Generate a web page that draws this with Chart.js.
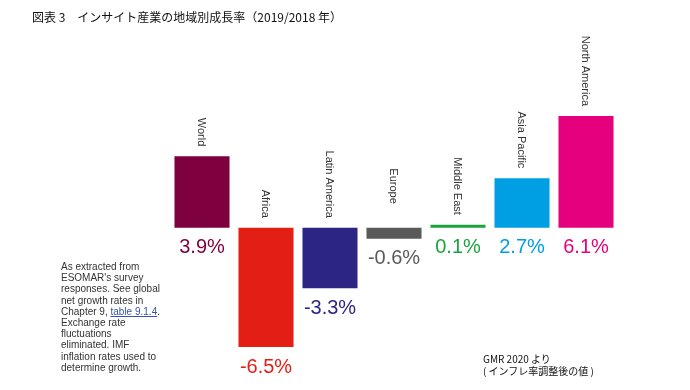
<!DOCTYPE html>
<html><head><meta charset="utf-8">
<script src="https://cdn.jsdelivr.net/npm/chart.js@4/dist/chart.umd.min.js"></script>
<style>
html,body{margin:0;padding:0;background:#fff;}
#wrap{position:relative;width:690px;height:390px;overflow:hidden;}
canvas{position:absolute;left:0;top:0;}
.title{position:absolute;left:32px;top:9px;font-family:"Noto Sans CJK JP",sans-serif;font-size:12px;color:#111;white-space:nowrap;line-height:16px;}
.note{position:absolute;left:61px;top:261px;font-family:"Liberation Sans",Arial,sans-serif;font-size:10px;line-height:11.2px;color:#333;}
.note u{color:#3355aa;}
.src{position:absolute;left:483px;top:353px;font-family:"Noto Sans CJK JP",sans-serif;font-size:10px;line-height:12px;color:#111;white-space:nowrap;}
</style></head>
<body><div id="wrap">
<canvas id="c" width="690" height="390"></canvas>
<div class="title">図表 3　インサイト産業の地域別成長率（2019/2018 年）</div>
<div class="note">As extracted from<br>ESOMAR's survey<br>responses. See global<br>net growth rates in<br>Chapter 9, <u>table 9.1.4</u>.<br>Exchange rate<br>fluctuations<br>eliminated. IMF<br>inflation rates used to<br>determine growth.</div>
<div class="src">GMR 2020 より<br>( インフレ率調整後の値 )</div>
</div>
<script>
const categories = ["World","Africa","Latin America","Europe","Middle East","Asia Pacific","North America"];
const growth = [3.9,-6.5,-3.3,-0.6,0.1,2.7,6.1];
const valueLabels = ["3.9%","-6.5%","-3.3%","-0.6%","0.1%","2.7%","6.1%"];
const colors = ["#7f003f","#e31e14","#2d2583","#5a5a5a","#1aa33e","#009fe3","#e5007d"];

const labelPlugin = {
  id:'labelPlugin',
  afterDatasetsDraw(chart){
    const ctx = chart.ctx;
    const meta = chart.getDatasetMeta(0);
    const y = chart.scales.y;
    const zero = y.getPixelForValue(0);
    meta.data.forEach((bar,i)=>{
      const top = Math.min(bar.y, bar.base, zero);
      const bottom = Math.max(bar.y, bar.base, zero);
      // value label
      ctx.save();
      ctx.font = '20px "Liberation Sans", Arial, sans-serif';
      ctx.fillStyle = colors[i];
      ctx.textAlign = 'center';
      ctx.textBaseline = 'middle';
      ctx.fillText(valueLabels[i], bar.x, bottom + 20);
      ctx.restore();
      // category label rotated
      const gap = categories[i] === 'Europe' ? 24 : 10;
      ctx.save();
      ctx.font = '11px "Liberation Sans", Arial, sans-serif';
      ctx.fillStyle = '#333';
      ctx.translate(bar.x - 1, top - gap);
      ctx.rotate(Math.PI/2);
      ctx.textAlign = 'right';
      ctx.textBaseline = 'middle';
      ctx.fillText(categories[i], 0, 0);
      ctx.restore();
    });
  }
};

new Chart(document.getElementById('c'), {
  type:'bar',
  data:{labels:categories,datasets:[{data:growth,backgroundColor:colors,borderWidth:0,barPercentage:0.86,categoryPercentage:1,minBarLength:3}]},
  options:{
    responsive:false,animation:false,
    layout:{padding:{left:170,right:72,top:116,bottom:43}},
    plugins:{legend:{display:false},tooltip:{enabled:false}},
    scales:{
      x:{display:false},
      y:{display:false,min:-6.5,max:6.1}
    }
  },
  plugins:[labelPlugin]
});
</script>
</body></html>
